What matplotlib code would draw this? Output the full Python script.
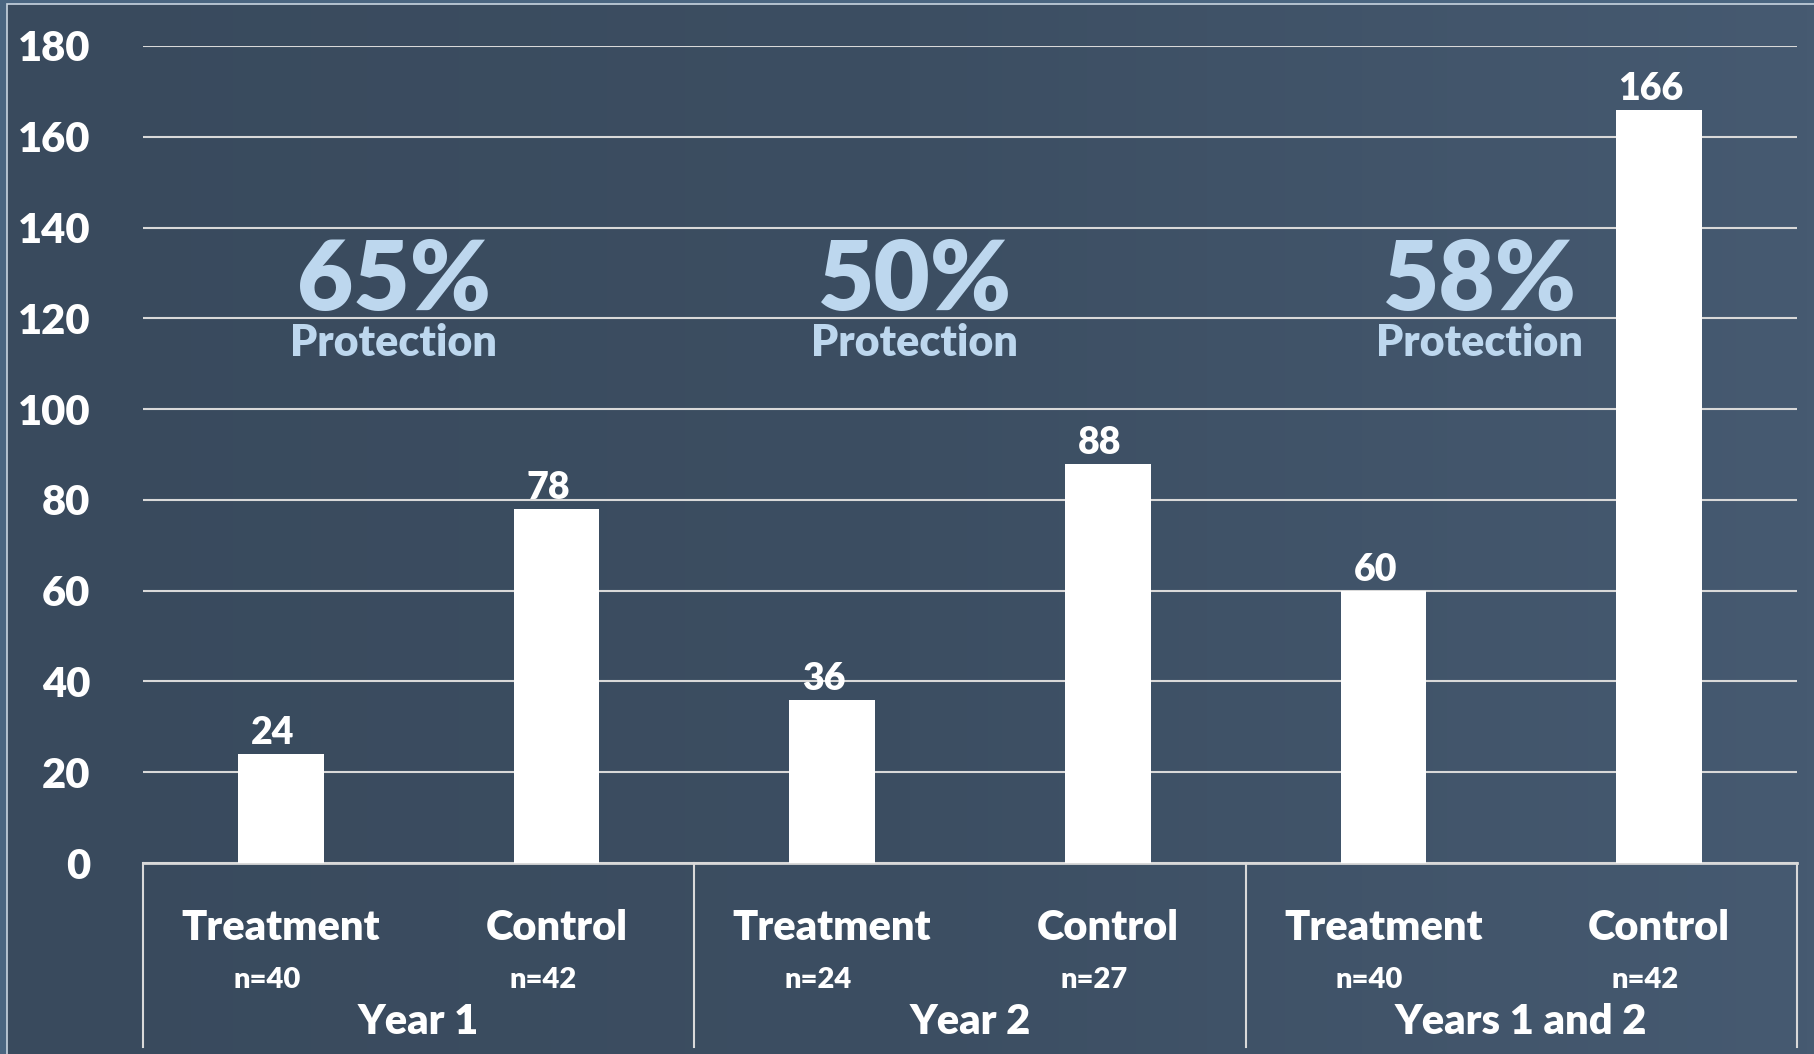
import matplotlib
matplotlib.use("Agg")
import matplotlib.pyplot as plt
from matplotlib.patches import Rectangle
from matplotlib.colors import LinearSegmentedColormap
import numpy as np

plt.rcParams['font.family'] = ['Lato', 'DejaVu Sans']

# data
groups = ["Year 1", "Year 2", "Years 1 and 2"]
arms = ["Treatment", "Control", "Treatment", "Control", "Treatment", "Control"]
n_labels = ["n=40", "n=42", "n=24", "n=27", "n=40", "n=42"]
values = [24, 78, 36, 88, 60, 166]
protection = ["65%", "50%", "58%"]
yticks = [0, 20, 40, 60, 80, 100, 120, 140, 160, 180]

W = "heavy"

fig = plt.figure(figsize=(18.14, 10.54), dpi=100)
fig.patch.set_facecolor("#4a6580")

# background gradient
bg = fig.add_axes([0.004, 0, 0.996, 0.996])
grad = np.linspace(0, 1, 256).reshape(1, -1)
cm = LinearSegmentedColormap.from_list("bg", ["#394a5d", "#3c4e62", "#465a71"])
bg.imshow(grad, aspect="auto", cmap=cm, extent=[0, 1, 0, 1])
bg.set_xlim(0, 1)
bg.set_ylim(0, 1)
bg.axis("off")
fig.patches.append(Rectangle((0.004, -0.01), 1.0, 1.006, transform=fig.transFigure,
                             fill=False, edgecolor="#c8d4e0", linewidth=1.2))

ax = fig.add_axes([0.0788, 0.1812, 0.9118, 0.7752])
ax.patch.set_alpha(0)
x = np.arange(len(values))
ax.bar(x, values, width=0.31, color="white", zorder=3)
ax.set_xlim(-0.5, 5.5)
ax.set_ylim(0, 180)
ax.set_yticks(yticks)
ax.set_yticklabels([str(t) for t in yticks], fontsize=30, fontweight=W, color="white")
ax.tick_params(axis="y", length=0, pad=38)
ax.tick_params(axis="x", length=0, labelbottom=False)
ax.yaxis.grid(True, color="#d9d9d9", linewidth=1.5, zorder=0)
ax.set_axisbelow(True)
for s in ["top", "right", "left"]:
    ax.spines[s].set_visible(False)
ax.spines["bottom"].set_color("#d9d9d9")
ax.spines["bottom"].set_linewidth(2)

for xi, v in zip(x, values):
    ax.text(xi - 0.03, v + 0.8, str(v), ha="center", va="bottom", fontsize=27,
            fontweight=W, color="white", zorder=4)

# protection labels
px = [0.41, 2.30, 4.35]
for xp, p in zip(px, protection):
    ax.text(xp, 128.0, p, ha="center", va="center", fontsize=70, fontweight=W,
            color="#bdd7ee", zorder=2)
    ax.text(xp, 114.5, "Protection", ha="center", va="center", fontsize=31,
            fontweight=W, color="#bdd7ee", zorder=2)

# category axis
trans = ax.get_xaxis_transform()
for b in [-0.5, 1.5, 3.5, 5.5]:
    ax.plot([b, b], [0, -0.225], transform=trans, color="#d9d9d9", linewidth=1.5,
            clip_on=False)
for xi, a, n in zip(x, arms, n_labels):
    ax.text(xi, -0.08, a, transform=trans, ha="center", va="center", fontsize=30,
            fontweight=W, color="white")
    ax.text(xi - 0.05, -0.143, n, transform=trans, ha="center", va="center", fontsize=21,
            fontweight=W, color="white")
for gi, g in enumerate(groups):
    ax.text(gi * 2 + 0.5, -0.195, g, transform=trans, ha="center", va="center",
            fontsize=30, fontweight=W, color="white")

fig.savefig("out.png", dpi=100, facecolor=fig.get_facecolor())
